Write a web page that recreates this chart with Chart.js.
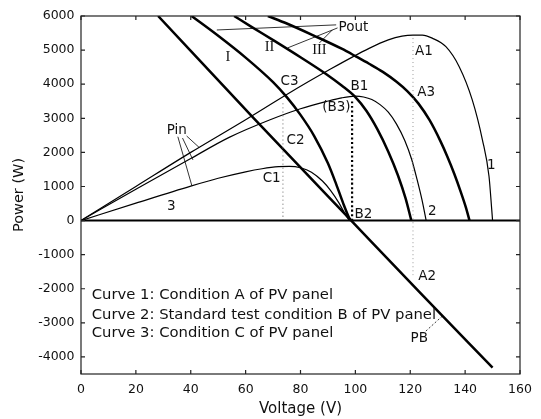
<!DOCTYPE html>
<html lang="en">
<head>
<meta charset="UTF-8">
<title>PV panel power curves</title>
<script src="https://cdn.jsdelivr.net/npm/chart.js"></script>
<style>
  html, body { margin: 0; padding: 0; background: #fff; }
  #wrap { width: 541px; height: 419px; }
</style>
</head>
<body>
<div id="wrap"><canvas id="pvChart"></canvas></div>
<script>
// axis ticks
const xTicks = [0, 20, 40, 60, 80, 100, 120, 140, 160];
const yTicks = [-4000, -3000, -2000, -1000, 0, 1000, 2000, 3000, 4000, 5000, 6000];

// Pin curves of the PV panel (thin)
const curve1V = [0, 20, 40, 60, 75, 90, 105, 112, 117, 121, 124.4, 128, 133, 137.8, 142.6, 146.3, 148.7, 149.7, 150];
const curve1P = [0, 1000, 2000, 2960, 3700, 4400, 5050, 5300, 5410, 5440, 5440, 5350, 5100, 4520, 3540, 2370, 1300, 320, 0];
const curve2V = [0, 20, 40, 54, 68.7, 80, 89.3, 95, 100, 103, 106, 109, 112, 115, 118, 120.5, 122.5, 124.3, 125.8];
const curve2P = [0, 920, 1820, 2440, 2950, 3280, 3490, 3600, 3650, 3625, 3550, 3400, 3180, 2830, 2350, 1800, 1200, 600, 0];
const curve3V = [0, 20, 40, 50, 60, 66, 72, 76, 80, 84, 88, 91, 94, 96.4, 97.8];
const curve3P = [0, 510, 1010, 1240, 1430, 1520, 1580, 1590, 1550, 1420, 1160, 880, 520, 170, 0];

// Pout curves I, II, III (thick)
const poutIV = [40.3, 50, 60, 70, 75, 80, 85, 90, 93, 95.5, 97.5, 98.3];
const poutIP = [6000, 5420, 4780, 4060, 3620, 3100, 2480, 1680, 1070, 520, 120, 0];
const poutIIV = [55.8, 62, 70.5, 80, 89.3, 95, 100, 104, 108, 112, 115.5, 118.3, 120.4];
const poutIIP = [6000, 5690, 5270, 4790, 4300, 3960, 3620, 3220, 2680, 2020, 1330, 650, 0];
const poutIIIV = [68.1, 75, 85, 95, 100.3, 105, 110, 115, 119, 123, 127, 131, 133.5, 136, 138.5, 140.3, 141.6];
const poutIIIP = [6000, 5780, 5420, 5040, 4810, 4600, 4360, 4070, 3790, 3430, 2950, 2330, 1880, 1380, 820, 380, 0];

// battery power PB (thick, nearly straight)
const pbV = [28.1, 63, 98.5, 124, 150];
const pbP = [6000, 3000, 0, -2150, -4310];

// zero line and marker lines
const zeroV = [0, 160];
const zeroP = [0, 0];
const markAV = [121, 121];
const markAP = [-1600, 5400];
const markBV = [98.8, 98.8];
const markBP = [0, 3550];
const markCV = [73.6, 73.6];
const markCP = [0, 3500];

// leader lines from the labels
const leaderPoutIV = [49.5, 93];
const leaderPoutIP = [5590, 5740];
const leaderPoutIIV = [75.3, 93.5];
const leaderPoutIIP = [5064, 5650];
const leaderPoutIIIV = [86.9, 91.6];
const leaderPoutIIIP = [5210, 5590];
const leaderPin1V = [35.3, 40.4];
const leaderPin1P = [2459, 1024];
const leaderPin2V = [37, 40.8];
const leaderPin2P = [2420, 1780];
const leaderPin3V = [38.5, 43];
const leaderPin3P = [2480, 2150];
const leaderPbV = [125.7, 131.7];
const leaderPbP = [-3240, -2801];

// text labels (value coordinates)
const labelText = ['Pout', 'C3', 'B1', '(B3)', 'A1', 'A3', 'C2', 'C1', 'B2', '2', '1', 'A2', 'PB', 'Pin', '3'];
const labelV = [99.3, 76, 101.5, 93.1, 125, 125.8, 78.2, 69.5, 102.9, 128, 149.5, 126.2, 123.3, 34.9, 32.9];
const labelP = [5650, 4069, 3922, 3307, 4947, 3747, 2342, 1229, 190, 263, 1610, -1640, -3454, 2634, 410];
const romanText = ['I', 'II', 'III'];
const romanV = [53.5, 68.7, 86.9];
const romanP = [4800, 5093, 5005];
const noteText = [
    'Curve 1: Condition A of PV panel',
    'Curve 2: Standard test condition B of PV panel',
    'Curve 3: Condition C of PV panel'
];
const noteV = 3.9;
const noteP = [-2195, -2780, -3307];

function pts(vs, ps) {
    return vs.map((v, i) => ({ x: v, y: ps[i] }));
}

function line(vs, ps, width, extra) {
    return Object.assign({
        data: pts(vs, ps),
        showLine: true,
        borderColor: '#000',
        borderWidth: width,
        pointRadius: 0,
        fill: false,
        cubicInterpolationMode: 'monotone'
    }, extra || {});
}

const sansFont = '"DejaVu Sans", sans-serif';

const frameAndText = {
    id: 'frameAndText',
    afterDatasetsDraw(chart) {
        const { ctx, chartArea: a, scales: { x, y } } = chart;
        ctx.save();
        // box round the plot, MATLAB style
        ctx.strokeStyle = '#222';
        ctx.lineWidth = 1.2;
        ctx.strokeRect(a.left, a.top, a.right - a.left, a.bottom - a.top);
        // inward ticks on all four sides
        const t = 4;
        ctx.beginPath();
        xTicks.forEach(v => {
            const px = x.getPixelForValue(v);
            ctx.moveTo(px, a.bottom); ctx.lineTo(px, a.bottom - t);
            ctx.moveTo(px, a.top); ctx.lineTo(px, a.top + t);
        });
        yTicks.forEach(v => {
            const py = y.getPixelForValue(v);
            ctx.moveTo(a.left, py); ctx.lineTo(a.left + t, py);
            ctx.moveTo(a.right, py); ctx.lineTo(a.right - t, py);
        });
        ctx.stroke();

        ctx.fillStyle = '#111';
        ctx.textAlign = 'center';
        ctx.textBaseline = 'middle';
        ctx.font = '13.5px ' + sansFont;
        labelText.forEach((s, i) => {
            ctx.fillText(s, x.getPixelForValue(labelV[i]), y.getPixelForValue(labelP[i]));
        });
        ctx.font = '14.5px "Liberation Serif", serif';
        romanText.forEach((s, i) => {
            ctx.fillText(s, x.getPixelForValue(romanV[i]), y.getPixelForValue(romanP[i]));
        });
        ctx.textAlign = 'left';
        ctx.font = '14.8px ' + sansFont;
        noteText.forEach((s, i) => {
            ctx.fillText(s, x.getPixelForValue(noteV), y.getPixelForValue(noteP[i]));
        });
        ctx.restore();
    }
};

new Chart(document.getElementById('pvChart'), {
    type: 'scatter',
    data: {
        datasets: [
            line(zeroV, zeroP, 2, { cubicInterpolationMode: 'default' }),
            line(markAV, markAP, 1, { borderColor: '#999', borderDash: [1, 3] }),
            line(markBV, markBP, 2.2, { borderDash: [2, 2.5] }),
            line(markCV, markCP, 1, { borderColor: '#666', borderDash: [1, 3] }),
            line(curve1V, curve1P, 1.2),
            line(curve2V, curve2P, 1.2),
            line(curve3V, curve3P, 1.2),
            line(poutIV, poutIP, 2.5),
            line(poutIIV, poutIIP, 2.5),
            line(poutIIIV, poutIIIP, 2.5),
            line(pbV, pbP, 2.5),
            line(leaderPoutIV, leaderPoutIP, 0.8),
            line(leaderPoutIIV, leaderPoutIIP, 0.8),
            line(leaderPoutIIIV, leaderPoutIIIP, 0.8),
            line(leaderPin1V, leaderPin1P, 0.8),
            line(leaderPin2V, leaderPin2P, 0.8),
            line(leaderPin3V, leaderPin3P, 0.8),
            line(leaderPbV, leaderPbP, 0.8, { borderDash: [2, 2] })
        ]
    },
    options: {
        responsive: true,
        maintainAspectRatio: false,
        animation: false,
        events: [],
        layout: { padding: { top: 16, right: 21, left: 0, bottom: 0 } },
        plugins: {
            legend: { display: false },
            tooltip: { enabled: false }
        },
        scales: {
            x: {
                type: 'linear',
                min: 0,
                max: 160,
                afterBuildTicks: s => { s.ticks = xTicks.map(v => ({ value: v })); },
                afterFit: s => { s.height = 45; },
                grid: { display: false, drawTicks: false },
                border: { display: false },
                ticks: {
                    color: '#111', padding: 8, maxRotation: 0,
                    font: { family: sansFont, size: 12.5 },
                    callback: v => String(v)
                },
                title: {
                    display: true,
                    text: 'Voltage (V)',
                    color: '#111',
                    padding: { top: 0, bottom: 1 },
                    font: { family: sansFont, size: 15 }
                }
            },
            y: {
                type: 'linear',
                min: -4500,
                max: 6000,
                afterBuildTicks: s => { s.ticks = yTicks.map(v => ({ value: v })); },
                afterFit: s => { s.width = 81; },
                grid: { display: false, drawTicks: false },
                border: { display: false },
                ticks: {
                    color: '#111', padding: 6.5,
                    font: { family: sansFont, size: 12.5 },
                    callback: v => String(v)
                },
                title: {
                    display: true,
                    text: 'Power (W)',
                    color: '#111',
                    padding: { top: 11, bottom: 0 },
                    font: { family: sansFont, size: 14.5 }
                }
            }
        }
    },
    plugins: [frameAndText]
});
</script>
</body>
</html>
